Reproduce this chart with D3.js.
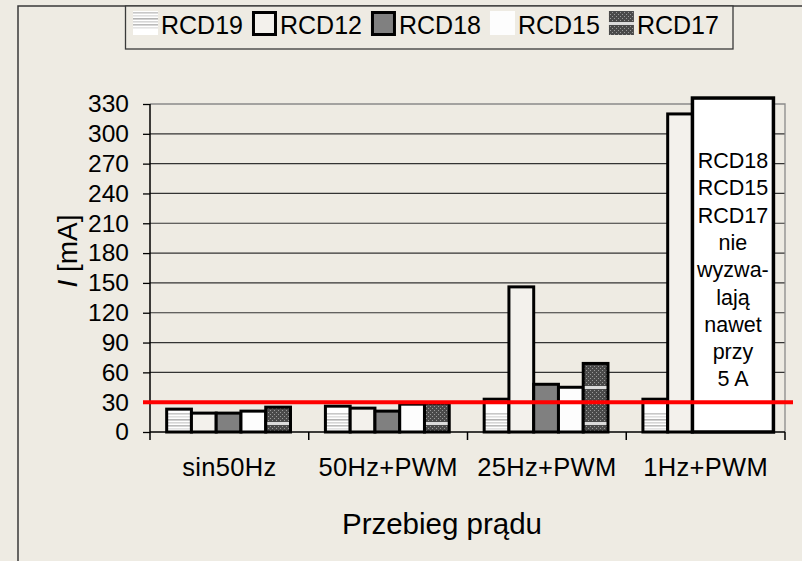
<!DOCTYPE html>
<html>
<head>
<meta charset="utf-8">
<script src="https://cdn.jsdelivr.net/npm/d3@7"></script>
<style>
  html, body { margin: 0; padding: 0; background: #eeebe3; }
  svg { display: block; }
  text { font-family: "Liberation Sans", Arial, sans-serif; fill: #000; }
</style>
</head>
<body>
<svg id="chart" width="802" height="561"></svg>
<script>
// Tripping current of RCDs for different current waveforms
const categories = ["sin50Hz", "50Hz+PWM", "25Hz+PWM", "1Hz+PWM"];
const seriesNames = ["RCD19", "RCD12", "RCD18", "RCD15", "RCD17"];
const rcd19 = [23, 26, 33, 33];
const rcd12 = [19, 24, 146, 320];
const rcd18 = [19, 21, 48, null];
const rcd15 = [21, 28, 45, null];
const rcd17 = [25, 29, 69, null];
const yTicks = [0, 30, 60, 90, 120, 150, 180, 210, 240, 270, 300, 330];
const limitValue = 30;
const noteLines = ["RCD18", "RCD15", "RCD17", "nie", "wyzwa-", "lają", "nawet", "przy", "5 A"];
const noteTop = 336;
const xTitle = "Przebieg prądu";

const seriesValues = [rcd19, rcd12, rcd18, rcd15, rcd17];
const fills = {
  RCD19: "url(#pRCD19)",
  RCD12: "#f3f1ec",
  RCD18: "#808080",
  RCD15: "#fdfdfd",
  RCD17: "url(#pRCD17)"
};
const legendFills = {
  RCD19: "url(#lRCD19)",
  RCD12: "#f3f1ec",
  RCD18: "#808080",
  RCD15: "#fdfdfd",
  RCD17: "url(#lRCD17)"
};
const legendStroke = { RCD12: true, RCD18: true };

const svg = d3.select("#chart");
const bg = "#eeebe3";

const plot = { left: 150, right: 785, top: 104, bottom: 432 };

const y = d3.scaleLinear().domain([0, 330]).range([plot.bottom, plot.top]);
const x0 = d3.scaleBand().domain(categories).range([plot.left, plot.right]);
const bw0 = x0.bandwidth();
const x1 = d3.scaleBand().domain(seriesNames).range([bw0 * 0.105, bw0 * 0.885]);

// ---- fill patterns ----
const defs = svg.append("defs");

function stripes(id, originY) {
  const p = defs.append("pattern").attr("id", id)
    .attr("patternUnits", "userSpaceOnUse")
    .attr("x", 0).attr("y", originY).attr("width", 8).attr("height", 30);
  p.append("rect").attr("width", 8).attr("height", 30).attr("fill", "#ffffff");
  const lines = [[11, "#c8c8c8"], [14, "#e0e0e0"], [17, "#b4b4b4"], [20, "#d6d6d6"], [23, "#bcbcbc"], [26, "#e4e4e4"]];
  lines.forEach(([o, c]) => p.append("rect").attr("y", o).attr("width", 8).attr("height", 1.6).attr("fill", c));
}
function speckle(id, originY) {
  const h = 36;
  const p = defs.append("pattern").attr("id", id)
    .attr("patternUnits", "userSpaceOnUse")
    .attr("x", 0).attr("y", originY).attr("width", 4).attr("height", h);
  p.append("rect").attr("width", 4).attr("height", h).attr("fill", "#4a4a4a");
  for (let j = 0; j < h; j += 2) {
    p.append("rect").attr("x", (j % 4 === 0) ? 0 : 2).attr("y", j).attr("width", 1).attr("height", 1).attr("fill", "#9a9a9a");
  }
  p.append("rect").attr("y", 26).attr("width", 4).attr("height", 3).attr("fill", "#dcdcdc");
}
stripes("pRCD19", plot.bottom - 30);
stripes("lRCD19", 1);
speckle("pRCD17", plot.bottom - 36);
speckle("lRCD17", -4);

// ---- outer frame ----
svg.append("path").attr("d", "M18,561V6H802")
  .attr("fill", "none").attr("stroke", "#3a3a3a").attr("stroke-width", 1.5);

// ---- legend ----
svg.append("rect").attr("x", 125.5).attr("y", 6).attr("width", 607.5).attr("height", 43)
  .attr("fill", bg).attr("stroke", "#3a3a3a").attr("stroke-width", 1.3);

let lx = 133;
seriesNames.forEach(name => {
  const boxed = legendStroke[name];
  svg.append("rect")
    .attr("x", lx + (boxed ? 1.5 : 0)).attr("y", boxed ? 12.5 : 11)
    .attr("width", boxed ? 22 : 25).attr("height", boxed ? 22 : 24)
    .attr("fill", legendFills[name])
    .attr("stroke", boxed ? "#000" : "none").attr("stroke-width", 3);
  const t = svg.append("text").attr("x", lx + 28).attr("y", 34)
    .attr("font-size", 25).text(name);
  lx = lx + 28 + t.node().getComputedTextLength() + 9;
});

// ---- gridlines & plot border ----
const g = svg.append("g");
g.selectAll("line.grid").data(yTicks.filter(v => v > 0 && v < 330)).join("line")
  .attr("x1", plot.left).attr("x2", plot.right)
  .attr("y1", d => y(d)).attr("y2", d => y(d))
  .attr("stroke", "#333").attr("stroke-width", 1.2);
g.append("path")
  .attr("d", `M${plot.left},${y(330)}H${plot.right}V${plot.bottom}`)
  .attr("fill", "none").attr("stroke", "#8a8a8a").attr("stroke-width", 1.3);

// ---- bars ----
const barData = [];
categories.forEach((c, i) => {
  seriesNames.forEach((s, k) => {
    const v = seriesValues[k][i];
    if (v !== null) barData.push({ cat: c, series: s, value: v });
  });
});
g.selectAll("rect.bar").data(barData).join("rect")
  .attr("x", d => x0(d.cat) + x1(d.series))
  .attr("y", d => y(d.value))
  .attr("width", x1.bandwidth())
  .attr("height", d => y(0) - y(d.value))
  .attr("fill", d => fills[d.series])
  .attr("stroke", "#000").attr("stroke-width", 3);

// ---- note box for the RCDs that did not trip ----
const noteCat = categories[3];
const nx0 = x0(noteCat) + x1("RCD18");
const nx1 = x0(noteCat) + x1("RCD17") + x1.bandwidth() * 1.27;
g.append("rect")
  .attr("x", nx0).attr("y", y(noteTop))
  .attr("width", nx1 - nx0).attr("height", y(0) - y(noteTop))
  .attr("fill", "#ffffff").attr("stroke", "#000").attr("stroke-width", 3.5);
const noteText = g.append("text").attr("text-anchor", "middle").attr("font-size", 21.5);
noteLines.forEach((line, i) => {
  noteText.append("tspan").attr("x", (nx0 + nx1) / 2).attr("y", 168 + i * 27.3).text(line);
});

// ---- axes ----
const yAxis = d3.axisLeft(y).tickValues(yTicks).tickSize(7).tickPadding(14);
const ya = svg.append("g").attr("transform", `translate(${plot.left},0)`).call(yAxis);
ya.select(".domain").remove();
ya.selectAll(".tick line").attr("stroke", "#000").attr("stroke-width", 1.3);
ya.selectAll(".tick text").attr("font-size", 24.5)
  .style("font-family", "'Liberation Sans', Arial, sans-serif").attr("fill", "#000");
svg.append("line").attr("x1", plot.left).attr("x2", plot.left)
  .attr("y1", y(330)).attr("y2", plot.bottom + 8)
  .attr("stroke", "#000").attr("stroke-width", 1.5);

const xAxis = d3.axisBottom(x0).tickSize(0).tickPadding(0);
const xa = svg.append("g").attr("transform", `translate(0,${plot.bottom})`).call(xAxis);
xa.select(".domain").remove();
xa.selectAll(".tick text").attr("font-size", 25.5).attr("dy", null).attr("y", 44)
  .attr("letter-spacing", 0.3)
  .style("font-family", "'Liberation Sans', Arial, sans-serif").attr("fill", "#000");
svg.append("line").attr("x1", plot.left).attr("x2", plot.right)
  .attr("y1", plot.bottom).attr("y2", plot.bottom)
  .attr("stroke", "#000").attr("stroke-width", 1.5);
svg.selectAll("line.sep").data(categories).join("line")
  .attr("x1", d => x0(d) + bw0).attr("x2", d => x0(d) + bw0)
  .attr("y1", plot.bottom).attr("y2", plot.bottom + 8)
  .attr("stroke", "#000").attr("stroke-width", 1.5);

// ---- axis titles ----
const yt = svg.append("text").attr("transform", "translate(77,251) rotate(-90)")
  .attr("text-anchor", "middle").attr("font-size", 28);
yt.append("tspan").attr("font-style", "italic").text("I");
yt.append("tspan").text(" [mA]");
svg.append("text").attr("x", 442).attr("y", 534).attr("text-anchor", "middle")
  .attr("font-size", 29.5).text(xTitle);

// ---- 30 mA limit line ----
svg.append("line")
  .attr("x1", plot.left - 7).attr("x2", plot.right + 8)
  .attr("y1", y(limitValue)).attr("y2", y(limitValue))
  .attr("stroke", "#ff0000").attr("stroke-width", 4);
</script>
</body>
</html>
